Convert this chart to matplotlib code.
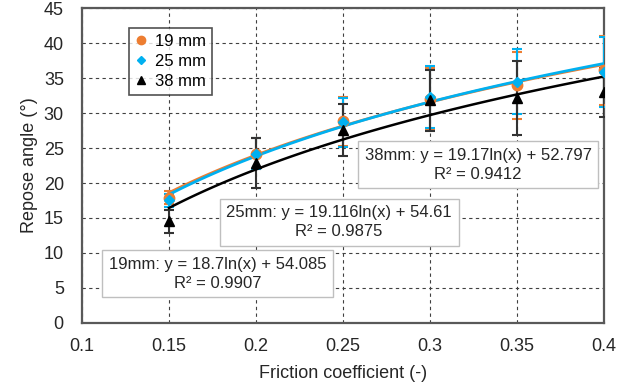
import matplotlib.pyplot as plt
import numpy as np

plt.rcParams['font.family'] = ['Liberation Sans', 'DejaVu Sans']

friction = [0.15, 0.2, 0.25, 0.3, 0.35, 0.4]

angle_19 = [17.9, 24.2, 28.8, 32.0, 34.0, 36.1]
err_19 = [0.9, 2.2, 3.5, 4.4, 4.8, 4.9]
angle_25 = [17.5, 24.2, 28.7, 32.3, 34.5, 35.9]
err_25 = [0.9, 2.2, 3.5, 4.4, 4.7, 5.0]
angle_38 = [14.5, 22.9, 27.6, 31.8, 32.1, 33.0]
err_38 = [1.6, 3.6, 3.7, 4.4, 5.3, 3.5]

# log trendline coefficients (a*ln(x) + b) and R^2 from the chart
fit_19 = (18.7, 54.085, 0.9907)
fit_25 = (19.116, 54.61, 0.9875)
fit_38 = (19.17, 52.797, 0.9412)

orange = '#ED7D31'
blue = '#00B0F0'

fig = plt.figure(figsize=(6.3, 3.89), dpi=100)
ax = fig.add_axes([0.130, 0.170, 0.829, 0.809])

xs = np.linspace(0.15, 0.4, 100)

ax.errorbar(friction, angle_19, yerr=err_19, fmt='none', ecolor=orange, elinewidth=1.5, capsize=3.5, capthick=1.5, zorder=3)
ax.errorbar(friction, angle_25, yerr=err_25, fmt='none', ecolor=blue, elinewidth=1.5, capsize=3.5, capthick=1.5, zorder=3)
ax.errorbar(friction, angle_38, yerr=err_38, fmt='none', ecolor='#333333', elinewidth=1.5, capsize=3.5, capthick=1.5, zorder=3)

ax.plot(xs, fit_19[0] * np.log(xs) + fit_19[1], color=orange, lw=2, zorder=4)
ax.plot(xs, fit_25[0] * np.log(xs) + fit_25[1], color=blue, lw=2, zorder=4)
ax.plot(xs, fit_38[0] * np.log(xs) + fit_38[1], color='black', lw=1.8, zorder=4)

ax.plot(friction, angle_19, 'o', color=orange, ms=7.5, label='19 mm', zorder=5)
ax.plot(friction, angle_25, 'D', color=blue, ms=5.5, label='25 mm', zorder=5)
ax.plot(friction, angle_38, '^', color='black', ms=7, label='38 mm', zorder=5)

ax.set_xlim(0.1, 0.4)
ax.set_ylim(0, 45)
ax.set_xticks([0.1, 0.15, 0.2, 0.25, 0.3, 0.35, 0.4])
ax.set_xticklabels(['0.1', '0.15', '0.2', '0.25', '0.3', '0.35', '0.4'])
ax.set_yticks(range(0, 46, 5))
ax.tick_params(axis='x', length=0, labelsize=13, colors='#262626', pad=11)
ax.tick_params(axis='y', length=0, labelsize=13, colors='#262626', pad=13)
ax.grid(True, linestyle=(0, (3, 3)), color='#404040', lw=0.8)
ax.set_axisbelow(True)
for s in ax.spines.values():
    s.set_color('#595959')
    s.set_linewidth(1.6)

ax.set_xlabel('Friction coefficient (-)', fontsize=13, color='#262626', labelpad=7)
ax.set_ylabel('Repose angle (°)', fontsize=13, color='#262626', labelpad=4)

leg = ax.legend(loc='upper left', bbox_to_anchor=(0.090, 0.937), borderaxespad=0,
                fontsize=12, frameon=True, fancybox=False, edgecolor='#262626',
                handlelength=0.8, handletextpad=0.4, borderpad=0.35, labelspacing=0.3,
                markerscale=0.8)
leg.get_frame().set_linewidth(1.2)

box = dict(boxstyle='square,pad=0.4', fc='white', ec='#BFBFBF', lw=1)


def eq_text(fit, name):
    return f'{name}: y = {fit[0]}ln(x) + {fit[1]}\nR² = {fit[2]}'


ax.text(0.3276, 22.6, eq_text(fit_38, '38mm'), ha='center', va='center', fontsize=12,
        color='#262626', bbox=box, linespacing=1.3, zorder=6)
ax.text(0.2477, 14.4, eq_text(fit_25, '25mm'), ha='center', va='center', fontsize=12,
        color='#262626', bbox=box, linespacing=1.3, zorder=6)
ax.text(0.178, 7.0, eq_text(fit_19, '19mm'), ha='center', va='center', fontsize=12,
        color='#262626', bbox=box, linespacing=1.3, zorder=6)

fig.savefig('out.png', dpi=100)
